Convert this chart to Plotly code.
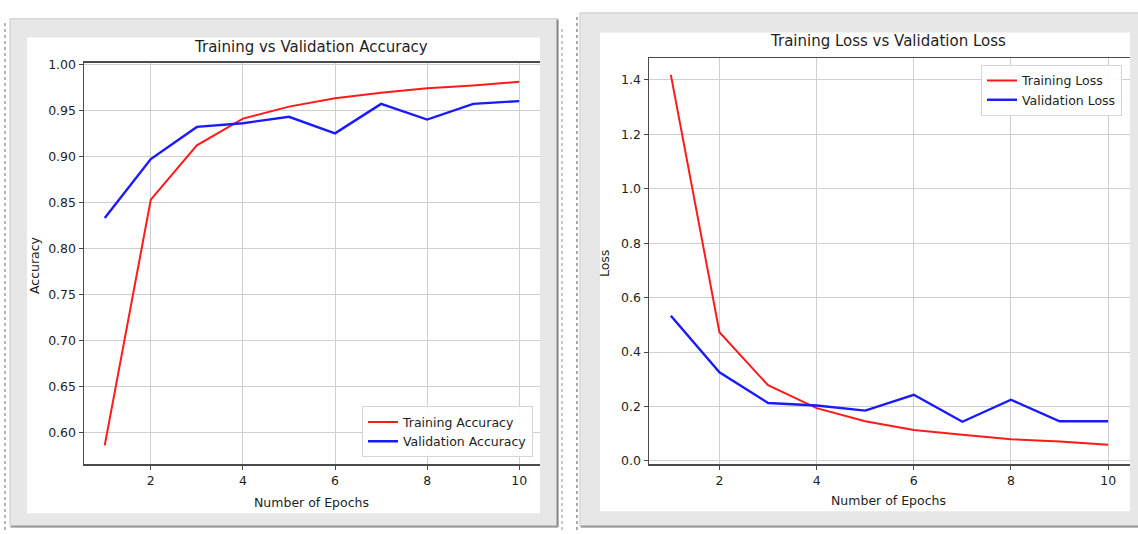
import plotly.graph_objects as go

# ---------------- data ----------------
epochs = [1, 2, 3, 4, 5, 6, 7, 8, 9, 10]
train_acc = [0.586, 0.853, 0.912, 0.941, 0.954, 0.963, 0.969, 0.974, 0.977, 0.981]
val_acc = [0.833, 0.897, 0.932, 0.936, 0.943, 0.925, 0.957, 0.940, 0.957, 0.960]
train_loss = [1.418, 0.473, 0.278, 0.194, 0.146, 0.114, 0.096, 0.080, 0.072, 0.060]
val_loss = [0.533, 0.326, 0.213, 0.204, 0.185, 0.243, 0.144, 0.225, 0.146, 0.146]

acc_ticks = [0.60, 0.65, 0.70, 0.75, 0.80, 0.85, 0.90, 0.95, 1.00]
loss_ticks = [0.0, 0.2, 0.4, 0.6, 0.8, 1.0, 1.2, 1.4]
epoch_ticks = [2, 4, 6, 8, 10]

titles = ["Training vs Validation Accuracy", "Training Loss vs Validation Loss"]
xlabel = "Number of Epochs"
ylabels = ["Accuracy", "Loss"]

# ---------------- layout helpers ----------------
W, H = 1138, 534
FONT = "DejaVu Sans"
TXT = "#1e1e1e"
SPINE = "#4a4a4a"
GRID = "#cfcfcf"


def fx(px):
    return px / W


def fy(py):
    return 1 - py / H


fig = go.Figure()

fig.add_trace(go.Scatter(x=epochs, y=train_acc, mode="lines", name="Training Accuracy",
                         line=dict(color="#ff1a1a", width=2), xaxis="x", yaxis="y", legend="legend"))
fig.add_trace(go.Scatter(x=epochs, y=val_acc, mode="lines", name="Validation Accuracy",
                         line=dict(color="#1a1aff", width=2.4), xaxis="x", yaxis="y", legend="legend"))
fig.add_trace(go.Scatter(x=epochs, y=train_loss, mode="lines", name="Training Loss",
                         line=dict(color="#ff1a1a", width=2), xaxis="x2", yaxis="y2", legend="legend2"))
fig.add_trace(go.Scatter(x=epochs, y=val_loss, mode="lines", name="Validation Loss",
                         line=dict(color="#1a1aff", width=2.4), xaxis="x2", yaxis="y2", legend="legend2"))

axis_common = dict(
    showgrid=True, gridcolor=GRID, gridwidth=1,
    showline=True, linecolor=SPINE, linewidth=1.5,
    ticks="outside", ticklen=4, tickcolor=SPINE, tickwidth=1,
    tickfont=dict(family=FONT, size=12.5, color=TXT),
    zeroline=False, fixedrange=True,
)

fig.update_layout(
    width=W, height=H,
    margin=dict(l=0, r=0, t=0, b=0),
    paper_bgcolor="white",
    plot_bgcolor="rgba(0,0,0,0)",
    showlegend=True,
    xaxis=dict(domain=[fx(84), fx(540)], range=[0.55, 10.45], tickvals=epoch_ticks,
               mirror=True, anchor="y", **axis_common),
    yaxis=dict(domain=[fy(467), fy(58)], range=[0.5655, 1.0015], tickvals=acc_ticks,
               tickformat=".2f", anchor="x", **axis_common),
    xaxis2=dict(domain=[fx(649), fx(1130)], range=[0.55, 10.45], tickvals=epoch_ticks,
                mirror=True, anchor="y2", **axis_common),
    yaxis2=dict(domain=[fy(467), fy(53.5)], range=[-0.012, 1.478], tickvals=loss_ticks,
                tickformat=".1f", anchor="x2", **axis_common),
    legend=dict(x=fx(533), y=fy(460), xanchor="right", yanchor="bottom",
                bgcolor="rgba(255,255,255,0.9)", bordercolor="#d6d6d6", borderwidth=1,
                font=dict(family=FONT, size=12.5, color=TXT), itemwidth=30),
    legend2=dict(x=fx(1122), y=fy(60), xanchor="right", yanchor="top",
                 bgcolor="rgba(255,255,255,0.9)", bordercolor="#d6d6d6", borderwidth=1,
                 font=dict(family=FONT, size=12.5, color=TXT), itemwidth=30),
)

# ---------------- frames (screenshot cards) ----------------
shapes = []


def rect(x0, y0, x1, y1, fill, line_color=None, lw=0):
    return dict(type="rect", xref="paper", yref="paper", layer="below",
                x0=fx(x0), x1=fx(x1), y0=fy(y1), y1=fy(y0),
                fillcolor=fill, line=dict(color=line_color or fill, width=lw))


def vline(x, y0, y1, color, width=1, dash="solid"):
    return dict(type="line", xref="paper", yref="paper", layer="below",
                x0=fx(x), x1=fx(x), y0=fy(y1), y1=fy(y0),
                line=dict(color=color, width=width, dash=dash))


def hline(y, x0, x1, color, width=1):
    return dict(type="line", xref="paper", yref="paper", layer="below",
                x0=fx(x0), x1=fx(x1), y0=fy(y), y1=fy(y),
                line=dict(color=color, width=width))


# left card
shapes.append(rect(10, 13, 558, 531, "#e7e7e7", "#c9c9c9", 1))
shapes.append(vline(557.5, 14, 531, "#8a8a8a", 2))
shapes.append(hline(530.5, 11, 558, "#9a9a9a", 2))
shapes.append(rect(27, 32, 540, 517, "white"))
# right card
shapes.append(rect(580, 7, 1140, 531, "#e7e7e7", "#c9c9c9", 1))
shapes.append(hline(530.5, 581, 1138, "#9a9a9a", 2))
shapes.append(rect(600, 27, 1130, 515, "white"))
# dotted edges between screenshots
shapes.append(vline(5, 17, 534, "#b5b5b5", 2, "dot"))
shapes.append(vline(562, 20, 534, "#b5b5b5", 1.5, "dot"))
shapes.append(vline(577, 8, 534, "#a8a8a8", 2, "dot"))

fig.update_layout(shapes=shapes)

# ---------------- titles & axis labels ----------------
ann = []
ann.append(dict(text=titles[0], x=fx(311), y=fy(42), xref="paper", yref="paper",
                showarrow=False, xanchor="center", yanchor="middle",
                font=dict(family=FONT, size=15, color=TXT)))
ann.append(dict(text=titles[1], x=fx(888), y=fy(36), xref="paper", yref="paper",
                showarrow=False, xanchor="center", yanchor="middle",
                font=dict(family=FONT, size=15, color=TXT)))
ann.append(dict(text=xlabel, x=fx(311), y=fy(506), xref="paper", yref="paper",
                showarrow=False, xanchor="center", yanchor="middle",
                font=dict(family=FONT, size=12.5, color=TXT)))
ann.append(dict(text=xlabel, x=fx(888), y=fy(504), xref="paper", yref="paper",
                showarrow=False, xanchor="center", yanchor="middle",
                font=dict(family=FONT, size=12.5, color=TXT)))
ann.append(dict(text=ylabels[0], x=fx(34), y=fy(264), xref="paper", yref="paper",
                showarrow=False, xanchor="center", yanchor="middle", textangle=-90,
                font=dict(family=FONT, size=12.5, color=TXT)))
ann.append(dict(text=ylabels[1], x=fx(604), y=fy(262), xref="paper", yref="paper",
                showarrow=False, xanchor="center", yanchor="middle", textangle=-90,
                font=dict(family=FONT, size=12.5, color=TXT)))
fig.update_layout(annotations=ann)

fig.write_html(
    "out.html",
    config={"displayModeBar": False, "staticPlot": True},
    post_script="document.body.style.margin='0';document.body.style.padding='0';"
                "document.body.style.overflow='hidden';",
)
